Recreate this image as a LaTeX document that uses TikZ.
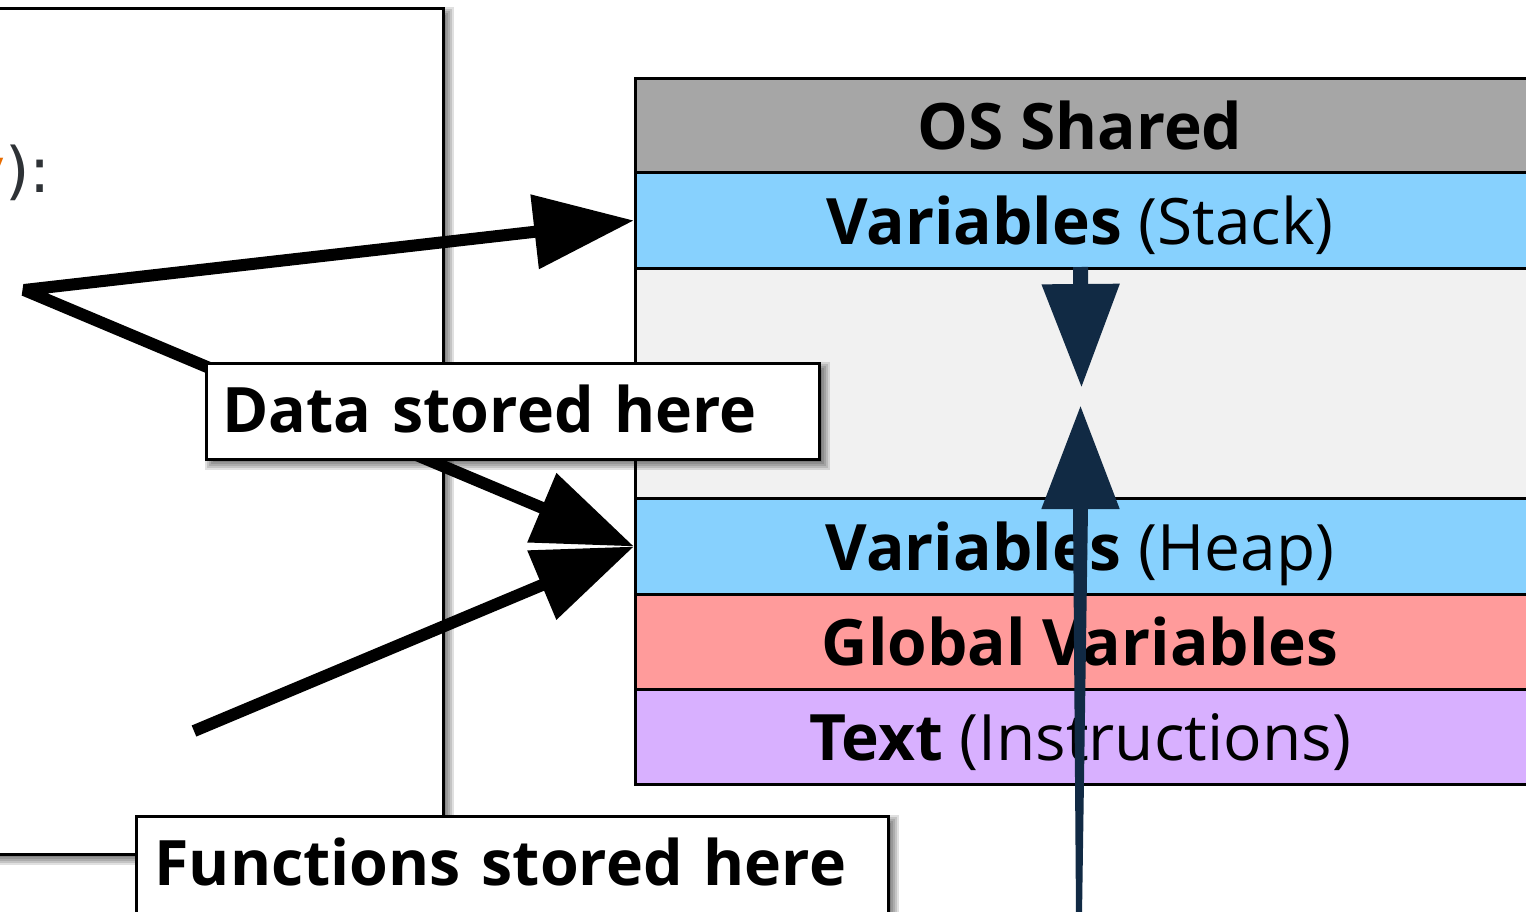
\documentclass[tikz,border=0pt]{standalone}
\usepackage{fontspec}
\setmainfont{Open Sans}
\newfontfamily\codefont{DejaVu Sans}
\usetikzlibrary{arrows.meta}

\definecolor{osgray}{HTML}{A6A6A6}
\definecolor{varblue}{HTML}{87D1FE}
\definecolor{freegray}{HTML}{F1F1F1}
\definecolor{globred}{HTML}{FF9B9B}
\definecolor{textlilac}{HTML}{D8B0FF}
\definecolor{navy}{HTML}{112A44}
\definecolor{codegray}{HTML}{2E3236}
\definecolor{codeorange}{HTML}{E86C00}

% soft drop shadow below/right of a box given by its corners
\newcommand{\softshadow}[4]{%
  \foreach \k in {1,...,7}{%
    \fill[black, fill opacity=0.12] ({#1-2+2*\k},{#2-2+2*\k}) rectangle ({#3+14-2*\k},{#4+14-2*\k});
  }}

\tikzset{
  row/.style={draw=black, line width=2.2pt, anchor=north west, inner sep=0pt, minimum width=720pt},
  rowtext/.style={anchor=base, inner sep=0pt, font=\fontsize{48}{58}\selectfont},
  labelbox/.style={draw=black, line width=2.2pt, fill=white, anchor=north west, align=left,
    inner ysep=0pt, text height=35pt, text depth=4pt, font=\fontsize{47}{56}\selectfont\bfseries},
  blackline/.style={draw=black, line width=9pt},
  navyline/.style={draw=navy, line width=11.25pt},
  bighead/.tip={Triangle[length=75pt, width=54pt]},
  navyhead/.tip={Triangle[length=78pt, width=55.5pt]},
}

\begin{document}
\begin{tikzpicture}[x=0.75pt, y=-0.75pt, line join=miter]
\fill[white] (0,0) rectangle (1526,911);
\useasboundingbox (0,0) rectangle (1526,911);

% code listing frame
\softshadow{-30}{7}{442}{853}
\node[draw=black, line width=2.2pt, fill=white, anchor=north west, minimum width=354pt,
      minimum height=634.5pt, inner sep=0pt] (code) at (-30,7) {};
\node[anchor=base east, inner sep=0pt, font=\codefont\fontsize{47}{56}\selectfont, text=codegray]
  (sig) at (51,192) {\textcolor{codeorange}{y}):};

% memory layout
\node[row, fill=osgray,    minimum height=70.5pt]  (osrow)    at (634,77)  {};
\node[row, fill=varblue,   minimum height=72pt]    (stackrow) at (634,171) {};
\node[row, fill=freegray,  minimum height=172.5pt] (freerow)  at (634,267) {};
\node[row, fill=varblue,   minimum height=72pt]    (heaprow)  at (634,497) {};
\node[row, fill=globred,   minimum height=71.25pt] (globrow)  at (634,593) {};
\node[row, fill=textlilac, minimum height=71.25pt] (textrow)  at (634,688) {};

\node[rowtext] (ostext)    at (1080,149) {\textbf{OS Shared}};
\node[rowtext] (stacktext) at (1080,244) {\textbf{Variables} (Stack)};
\node[rowtext] (heaptext)  at (1080,570) {\textbf{Variables} (Heap)};
\node[rowtext] (globtext)  at (1080,665) {\textbf{Global Variables}};
\node[rowtext] (texttext)  at (1080,760) {\textbf{Text} (Instructions)};

% pointers from the code into memory
\coordinate (src) at (24,290);
\coordinate (fsrc) at (194,731);
\draw[blackline, line join=bevel, bighead-bighead] (stackrow.west) -- (src) -- (heaprow.west);
\draw[blackline, -bighead] (fsrc) -- (heaprow.west);

% labels
\softshadow{205}{362}{818}{458}
\node[labelbox, minimum height=72pt, text width=435.75pt, inner xsep=12pt] (databox) at (205,362) {\mbox{Data stored here}};
\softshadow{135}{815}{887}{912}
\node[labelbox, minimum height=72.75pt, text width=537pt, inner xsep=13.5pt] (funcbox) at (135,815) {\mbox{Functions stored here}};

% stack and heap growing towards each other
\coordinate (dstart) at (1080.5,267);
\coordinate (dtip) at (1081.5,388);
\draw[navyline, -navyhead] (dstart) -- (dtip);
\coordinate (utip) at (1080.5,405);
\coordinate (ubase) at (1080.5,520);
\fill[navy] (1073,508) -- (1088,508) -- (1082,915) -- (1076,915) -- cycle;
\draw[navyline, -navyhead] (ubase) -- (utip);
\end{tikzpicture}
\end{document}
